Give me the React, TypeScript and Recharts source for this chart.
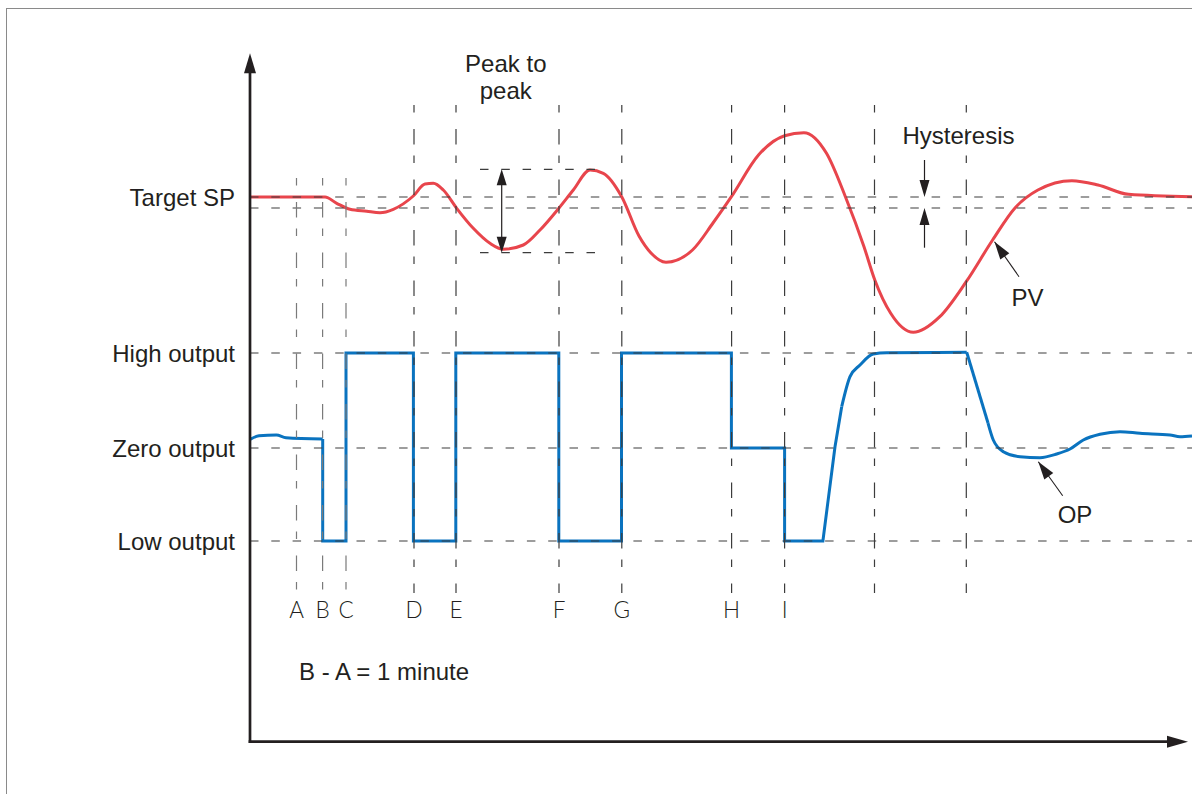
import { ComposedChart, Line, XAxis, YAxis, ReferenceLine, ReferenceDot } from 'recharts';

const W = 1192;
const H = 794;

// time runs from the vertical axis, level is measured from "Zero output"
const T_DOMAIN: [number, number] = [0, 942];
const V_DOMAIN: [number, number] = [-346, 448];

const INK = '#231f20';
const GRID = '#3c3c3c';
const GRID_LIGHT = '#7a7a7a';
const PV_RED = '#e8454c';
const OP_BLUE = '#0a73bf';
const SANS = '"Liberation Sans", Arial, Helvetica, sans-serif';
const THIN = 'Lato, "Open Sans", sans-serif';
const FONT = 24;
const LINE_GAP = 27;

const levelTicks = [251, 95, 0, -93];
const levelNames = ['Target SP', 'High output', 'Zero output', 'Low output'];

// horizontal dashed levels: setpoint, hysteresis band edge, high / zero / low output
const hLevels = [251, 240, 95, 0, -93];

// vertical dashed markers: time, label, top level
const markerTimes = [46.5, 72.6, 96, 164, 206, 309, 371.8, 481.6, 534.6, 624.5, 716.3];
const markerNames = ['A', 'B', 'C', 'D', 'E', 'F', 'G', 'H', 'I', '', ''];
const markerTops = [270, 270, 270, 343, 343, 343, 343, 343, 343, 343, 343];
const MARKER_BOTTOM = -145;

// process value
const pv: [number, number][] = [
  [0, 251], [75, 251], [86.7, 244.7], [100, 238.7], [116.7, 236.7], [130, 235.3],
  [143.3, 238.7], [163.3, 252], [175, 264], [183.3, 264.7], [193.3, 258], [206.7, 239.7],
  [223.3, 219.7], [240, 204.7], [253.3, 198.7], [273.3, 203], [290, 218], [309, 240],
  [323.3, 258], [340, 278], [353.3, 274.7], [371.7, 251.3], [389, 212], [401, 195],
  [416, 185.7], [442.5, 198], [463, 225], [481.4, 251.3], [508.5, 293], [534.6, 312.3],
  [553.9, 315.3], [576.5, 294.7], [595.4, 251.3], [614, 201.3], [624.8, 168], [640.7, 134.7],
  [663.3, 115.7], [689.8, 131.3], [716.2, 166.3], [742.6, 208], [765.2, 240.3], [787.9, 258],
  [821.9, 267.3], [848, 263], [878.5, 253.7], [942, 251.3],
];

// output, split where it switches hard
const opStart: [number, number][] = [
  [0.5, 8.7], [9, 12.3], [26.4, 13], [36, 10.3], [72.7, 9],
];
const opSwitching: [number, number][] = [
  [72.7, 9], [72.7, -93], [96, -93], [96, 95], [163.4, 95], [163.4, -93],
  [205.8, -93], [205.8, 95], [308.8, 95], [308.8, -93], [371.5, -93], [371.5, 95],
  [481.4, 95], [481.4, 0], [534.6, 0], [534.6, -93], [572.9, -93], [585, 1.3], [591.7, 41.3],
];
const opRise: [number, number][] = [
  [591.7, 41.3], [600, 71.3], [610, 83], [623.3, 94], [636.7, 95.3], [716.7, 95.7],
];
const opFall: [number, number][] = [[716.7, 95.7], [738, 25]];
const opSettle: [number, number][] = [
  [738, 25], [743.3, 8], [753.3, -3.7], [770, -8.7], [790, -9.7], [806.7, -6], [820, -1],
  [833.3, 8], [850, 13.7], [870, 16.3], [890, 14.7], [920, 13], [930, 11.3], [942, 12],
];

// peak-to-peak band
const peakBand = [278.7, 195.3];
const PEAK_T = [230, 345];
const PEAK_ARROW_T = 251.7;

// hysteresis arrows
const HYST_T = 674.5;

// pointers: tail then tip
const pvPointer: [number, number][] = [[769, 171.3], [744.5, 206.3]];
const opPointer: [number, number][] = [[812.7, -47.7], [788.3, -13.7]];

// text notes: time, baseline level of first line, lines
const notes: [number, number, string[]][] = [
  [255.8, 376, ['Peak to', 'peak']],
  [708.5, 304, ['Hysteresis']],
  [777.5, 142, ['PV']],
  [825, -74.7, ['OP']],
];
const footNote: [number, number, string] = [49, -232, 'B - A = 1 minute'];
const LETTER_BASE = -169.5;

const toRows = (pts: [number, number][]) => pts.map(([t, v]) => ({ t, v }));

function head(angle: number, len: number, half: number) {
  return (p: any) => {
    const a = (angle * Math.PI) / 180;
    const c = Math.cos(a);
    const s = Math.sin(a);
    const pt = (dx: number, dy: number) => `${p.cx + dx * c - dy * s},${p.cy + dx * s + dy * c}`;
    return <polygon points={`${pt(0, 0)} ${pt(-len, -half)} ${pt(-len, half)}`} fill={INK} />;
  };
}

function label(lines: string[], anchor: 'start' | 'middle' | 'end', family: string, size: number, weight = 400) {
  return (p: any) => (
    <text x={p.cx} y={p.cy} textAnchor={anchor} fontFamily={family} fontSize={size} fontWeight={weight} fill={INK}>
      {lines.map((l, i) => (
        <tspan key={i} x={p.cx} dy={i === 0 ? 0 : LINE_GAP}>{l}</tspan>
      ))}
    </text>
  );
}

// level and time units are 1:1 on screen, so the angle can come from the data
const pointerAngle = (pts: [number, number][]) =>
  (Math.atan2(-(pts[1][1] - pts[0][1]), pts[1][0] - pts[0][0]) * 180) / Math.PI;

export default function App() {
  const seg = (a: [number, number], b: [number, number]) => [{ x: a[0], y: a[1] }, { x: b[0], y: b[1] }];

  return (
    <div style={{ position: 'absolute', left: 0, top: 0, width: W, height: H, background: '#fff', overflow: 'hidden' }}>
      <div
        style={{
          position: 'absolute', left: 6, top: 7.6, width: W, height: H,
          borderLeft: '1.3px solid #8a8a8a', borderTop: '1.3px solid #8a8a8a',
        }}
      />
      <div style={{ position: 'absolute', left: 0, top: 0 }}>
        <ComposedChart width={W} height={H} margin={{ top: 0, right: 0, bottom: 0, left: 0 }}>
          <XAxis type="number" dataKey="t" domain={T_DOMAIN} allowDataOverflow hide />
          <YAxis
            type="number"
            domain={V_DOMAIN}
            allowDataOverflow
            width={250}
            ticks={levelTicks}
            tickFormatter={(v: number) => levelNames[levelTicks.indexOf(v)] ?? ''}
            axisLine={false}
            tickLine={false}
            tickSize={0}
            tickMargin={15}
            interval={0}
            tick={{ fontSize: FONT, fill: INK, fontFamily: SANS }}
          />

          <Line data={toRows(pv)} dataKey="v" type="monotoneX" stroke={PV_RED} strokeWidth={3} dot={false} activeDot={false} isAnimationActive={false} />
          <Line data={toRows(opStart)} dataKey="v" type="monotoneX" stroke={OP_BLUE} strokeWidth={3} dot={false} activeDot={false} isAnimationActive={false} />
          <Line data={toRows(opSwitching)} dataKey="v" type="linear" stroke={OP_BLUE} strokeWidth={3} dot={false} activeDot={false} isAnimationActive={false} />
          <Line data={toRows(opRise)} dataKey="v" type="monotoneX" stroke={OP_BLUE} strokeWidth={3} dot={false} activeDot={false} isAnimationActive={false} />
          <Line data={toRows(opFall)} dataKey="v" type="linear" stroke={OP_BLUE} strokeWidth={3} dot={false} activeDot={false} isAnimationActive={false} />
          <Line data={toRows(opSettle)} dataKey="v" type="monotoneX" stroke={OP_BLUE} strokeWidth={3} dot={false} activeDot={false} isAnimationActive={false} />

          {hLevels.map((v) => (
            <ReferenceLine key={`h${v}`} y={v} stroke={GRID} strokeWidth={1.2} strokeDasharray="8.5 12.8" ifOverflow="visible" />
          ))}

          {markerTimes.map((t, i) => (
            <ReferenceLine
              key={`m${i}`}
              segment={seg([t, markerTops[i]], [t, MARKER_BOTTOM])}
              stroke={i < 3 ? GRID_LIGHT : GRID}
              strokeWidth={1.2}
              strokeDasharray="7.5 16.5 15.5 11"
              ifOverflow="visible"
            />
          ))}
          {markerTimes.map((t, i) =>
            markerNames[i] ? (
              <ReferenceDot key={`ml${i}`} x={t} y={LETTER_BASE} r={0} ifOverflow="visible" shape={label([markerNames[i]], 'middle', THIN, 22.5, 300)} />
            ) : null,
          )}

          {/* peak to peak band */}
          {peakBand.map((v) => (
            <ReferenceLine key={`p${v}`} segment={seg([PEAK_T[0], v], [PEAK_T[1], v])} stroke={GRID} strokeWidth={1.2} strokeDasharray="8.5 12.8" ifOverflow="visible" />
          ))}
          <ReferenceLine segment={seg([PEAK_ARROW_T, peakBand[0] - 8], [PEAK_ARROW_T, peakBand[1] + 8])} stroke={INK} strokeWidth={1.2} ifOverflow="visible" />
          <ReferenceDot x={PEAK_ARROW_T} y={peakBand[0]} r={0} ifOverflow="visible" shape={head(-90, 16, 5)} />
          <ReferenceDot x={PEAK_ARROW_T} y={peakBand[1]} r={0} ifOverflow="visible" shape={head(90, 16, 5)} />

          {/* hysteresis */}
          <ReferenceLine segment={seg([HYST_T, 288], [HYST_T, 262])} stroke={INK} strokeWidth={1.2} ifOverflow="visible" />
          <ReferenceLine segment={seg([HYST_T, 200.3], [HYST_T, 228])} stroke={INK} strokeWidth={1.2} ifOverflow="visible" />
          <ReferenceDot x={HYST_T} y={hLevels[0]} r={0} ifOverflow="visible" shape={head(90, 17, 5)} />
          <ReferenceDot x={HYST_T} y={hLevels[1]} r={0} ifOverflow="visible" shape={head(-90, 17, 5)} />

          {/* pointers */}
          {[pvPointer, opPointer].map((pts, i) => (
            <ReferenceLine key={`ptr${i}`} segment={seg(pts[0], pts[1])} stroke={INK} strokeWidth={1.1} ifOverflow="visible" />
          ))}
          {[pvPointer, opPointer].map((pts, i) => (
            <ReferenceDot key={`ph${i}`} x={pts[1][0]} y={pts[1][1]} r={0} ifOverflow="visible" shape={head(pointerAngle(pts), 18, 5.5)} />
          ))}

          {/* axes with arrows */}
          <ReferenceLine segment={seg([0, -295], [0, 376])} stroke={INK} strokeWidth={2.7} ifOverflow="visible" />
          <ReferenceDot x={0} y={394.7} r={0} ifOverflow="visible" shape={head(-90, 20, 6)} />
          <ReferenceLine segment={seg([-1.35, -293.7], [920, -293.7])} stroke={INK} strokeWidth={2.7} ifOverflow="visible" />
          <ReferenceDot x={938} y={-293.7} r={0} ifOverflow="visible" shape={head(0, 21, 6)} />

          {notes.map(([t, v, lines]) => (
            <ReferenceDot key={lines[0]} x={t} y={v} r={0} ifOverflow="visible" shape={label(lines, 'middle', SANS, FONT)} />
          ))}
          <ReferenceDot x={footNote[0]} y={footNote[1]} r={0} ifOverflow="visible" shape={label([footNote[2]], 'start', SANS, FONT)} />
        </ComposedChart>
      </div>
    </div>
  );
}
